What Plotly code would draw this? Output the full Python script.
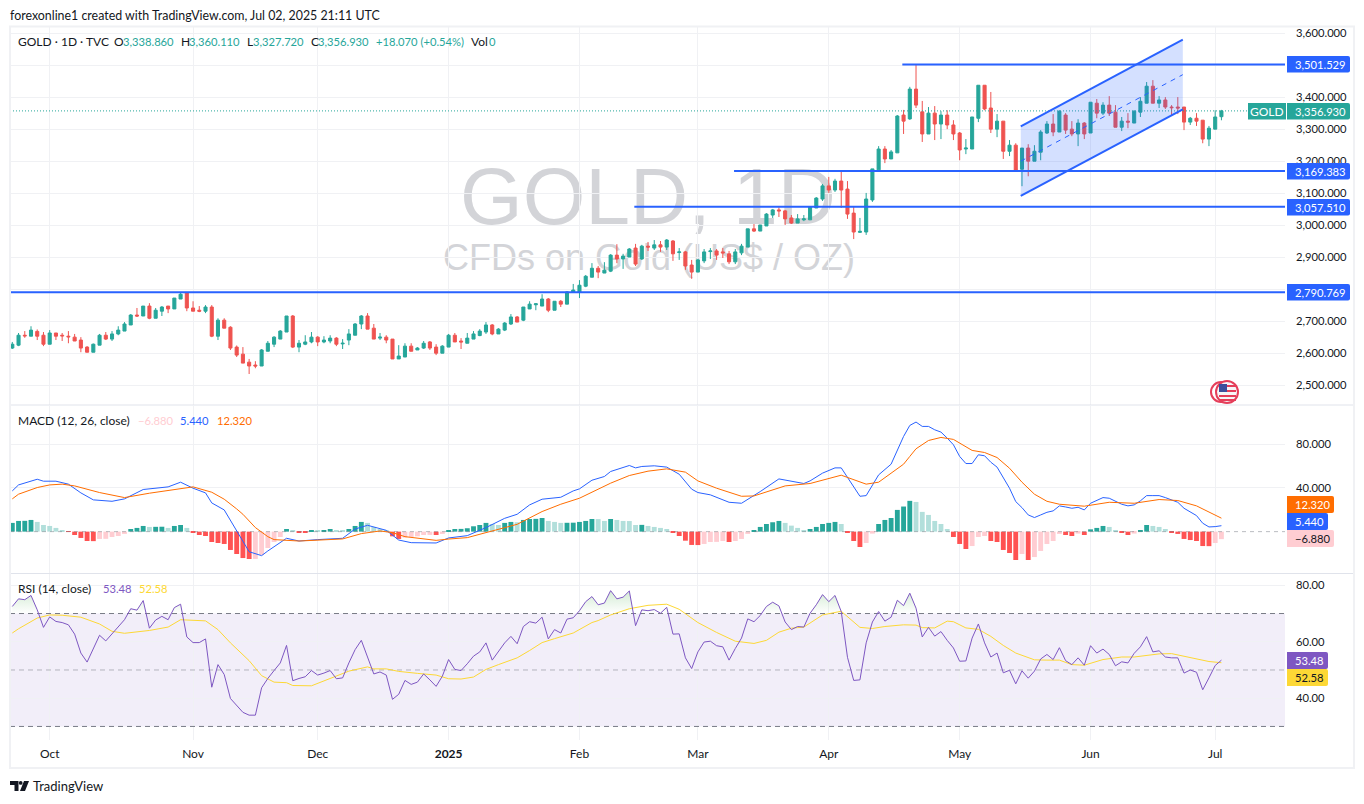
import plotly.graph_objects as go

W, H = 1364, 804
FONT = "Lato"
TEXT = "#131722"
GRID = "#f0f1f4"
UP = "#26a69a"
DOWN = "#ef5350"
BLUE = "#2962ff"
NUM = 11.2

opens = [2617,2626,2657,2654,2669,2657,2629,2664,2657,2654,
         2651,2642,2620,2604,2626,2657,2645,2661,2670,2689,
         2720,2717,2748,2710,2732,2748,2739,2770,2790,2742,
         2735,2732,2745,2654,2704,2682,2620,2598,2573,2564,
         2561,2607,2629,2645,2667,2717,2620,2629,2636,2651,
         2636,2639,2648,2630,2642,2657,2692,2717,2679,2648,
         2651,2645,2583,2589,2623,2611,2617,2636,2620,2601,
         2620,2657,2639,2632,2645,2656,2667,2689,2661,2673,
         2692,2714,2704,2739,2752,2748,2770,2735,2763,2754,
         2792,2792,2810,2838,2866,2851,2857,2907,2895,2901,
         2929,2895,2935,2929,2939,2932,2951,2915,2917,2876,
         2854,2889,2918,2920,2917,2911,2886,2914,2932,2989,
         2982,2998,3032,3048,3045,3023,3007,3017,3017,3054,
         3082,3123,3110,3138,3113,3038,2978,2979,3079,3173,
         3238,3207,3226,3344,3332,3425,3354,3285,3350,3316,
         3344,3313,3288,3238,3238,3334,3437,3366,3300,3325,
         3231,3250,3175,3241,3200,3228,3288,3316,3291,3344,
         3300,3285,3319,3288,3381,3350,3375,3353,3306,3325,
         3319,3353,3381,3434,3381,3391,3369,3369,3369,3322,
         3334,3328,3269,3300,3338.86]
highs = [2636,2664,2670,2685,2675,2667,2673,2664,2664,2670,
         2661,2651,2623,2631,2661,2667,2670,2685,2698,2723,
         2742,2748,2757,2742,2748,2748,2773,2792,2792,2763,
         2748,2751,2751,2710,2710,2685,2625,2620,2583,2576,
         2614,2639,2654,2673,2717,2720,2642,2657,2667,2654,
         2654,2657,2651,2645,2676,2695,2720,2726,2692,2664,
         2657,2645,2626,2632,2632,2620,2639,2639,2629,2626,
         2661,2664,2648,2664,2670,2676,2698,2692,2679,2698,
         2723,2717,2745,2763,2757,2785,2773,2763,2767,2795,
         2817,2829,2845,2882,2873,2885,2910,2941,2911,2929,
         2942,2939,2948,2954,2951,2957,2954,2929,2920,2892,
         2895,2926,2929,2926,2929,2920,2926,2942,2989,3004,
         3001,3038,3051,3056,3048,3032,3035,3032,3060,3088,
         3129,3151,3145,3169,3138,3057,3023,3101,3176,3247,
         3247,3235,3344,3360,3432,3501,3388,3369,3372,3356,
         3359,3328,3291,3269,3338,3437,3437,3416,3347,3325,
         3266,3256,3241,3253,3250,3297,3325,3347,3359,3350,
         3325,3331,3322,3384,3394,3384,3403,3375,3338,3350,
         3359,3400,3447,3453,3403,3400,3375,3400,3369,3338,
         3350,3328,3310,3359,3360.11]
lows = [2614,2623,2649,2654,2642,2623,2629,2642,2639,2632,
        2639,2604,2604,2604,2626,2642,2639,2657,2670,2689,
        2714,2717,2707,2710,2717,2726,2739,2770,2732,2732,
        2729,2726,2651,2642,2679,2611,2589,2570,2536,2554,
        2561,2607,2620,2645,2667,2617,2604,2626,2632,2623,
        2632,2632,2623,2614,2626,2657,2676,2676,2645,2642,
        2632,2583,2583,2589,2607,2611,2614,2611,2595,2601,
        2620,2636,2614,2632,2645,2654,2661,2657,2661,2670,
        2689,2698,2701,2739,2735,2748,2729,2735,2745,2754,
        2792,2773,2807,2838,2835,2851,2854,2882,2864,2901,
        2873,2892,2920,2923,2917,2923,2889,2892,2861,2833,
        2854,2882,2895,2892,2898,2879,2879,2907,2932,2979,
        2982,2998,3023,3026,3001,3004,3007,3013,3017,3054,
        3076,3101,3104,3054,3020,2957,2976,2970,3073,3173,
        3194,3207,3226,3285,3329,3366,3260,3285,3266,3269,
        3300,3266,3203,3222,3238,3322,3359,3288,3275,3207,
        3216,3169,3122,3153,3200,3203,3285,3278,3291,3285,
        3278,3247,3269,3288,3334,3344,3341,3306,3294,3303,
        3319,3338,3381,3381,3366,3363,3341,3347,3297,3313,
        3310,3256,3247,3300,3327.72]
closes = [2629,2657,2655,2673,2654,2629,2664,2654,2655,2652,
          2639,2617,2604,2629,2657,2645,2661,2673,2692,2720,
          2717,2748,2710,2735,2745,2739,2773,2785,2742,2732,
          2732,2745,2654,2704,2679,2617,2595,2570,2561,2561,
          2611,2632,2651,2670,2717,2620,2632,2636,2651,2636,
          2642,2648,2629,2632,2661,2692,2717,2676,2645,2651,
          2642,2583,2592,2623,2607,2617,2632,2617,2601,2623,
          2657,2636,2636,2648,2661,2670,2689,2661,2676,2695,
          2714,2698,2745,2754,2755,2770,2735,2763,2754,2792,
          2798,2813,2841,2866,2854,2860,2907,2895,2904,2926,
          2879,2935,2932,2939,2932,2954,2911,2917,2873,2854,
          2892,2917,2920,2907,2914,2886,2917,2935,2989,2982,
          3001,3035,3048,3045,3020,3007,3020,3020,3057,3085,
          3123,3110,3138,3110,3035,2979,2981,3082,3176,3238,
          3207,3229,3341,3325,3425,3375,3285,3350,3316,3344,
          3313,3285,3235,3241,3338,3437,3363,3300,3325,3231,
          3250,3172,3241,3200,3231,3291,3316,3291,3356,3297,
          3285,3319,3285,3384,3350,3375,3350,3306,3325,3322,
          3356,3387,3434,3381,3391,3369,3367,3366,3322,3334,
          3325,3269,3303,3338,3356.93]

hist_values = [8.0,9.8,9.9,10.7,8.9,6.1,5.2,3.4,1.5,-0.3,
               -3.1,-5.8,-8.6,-8.7,-6.7,-6.6,-4.9,-4.0,-2.1,2.4,
               3.4,5.2,4.3,4.4,4.5,3.4,5.2,6.1,3.4,-0.6,
               -3.1,-4.0,-9.5,-10.4,-11.3,-16.8,-20.5,-24.2,-25.1,-25.0,
               -21.4,-15.0,-9.5,-4.9,2.4,0.6,-0.6,-0.7,1.5,1.2,
               1.5,2.4,1.2,0.6,2.4,5.2,8.9,8.0,4.3,2.4,
               0.9,-4.3,-6.7,-5.5,-4.9,-4.3,-3.1,-3.0,-3.1,-2.1,
               1.2,2.4,2.5,3.1,4.9,6.1,8.0,7.0,6.1,8.0,
               8.9,8.6,10.7,11.6,11.7,12.5,9.8,8.9,8.0,8.1,
               8.2,8.9,9.8,11.6,11.5,9.8,11.6,10.7,9.8,9.7,
               6.1,6.2,5.2,4.3,3.4,2.4,-1.2,-4.0,-8.3,-12.2,
               -12.3,-11.3,-9.5,-9.4,-8.6,-9.5,-8.6,-6.7,-2.1,1.5,
               4.3,7.0,8.6,9.8,8.0,5.5,3.4,1.5,2.4,4.3,
               7.0,8.0,8.9,7.0,-0.6,-8.6,-14.1,-10.4,-1.8,7.0,
               10.7,12.5,19.9,23.0,28.2,27.2,18.1,15.3,9.8,7.0,
               2.4,-4.9,-11.3,-15.9,-13.2,-4.9,-4.0,-8.6,-9.5,-16.8,
               -19.6,-26.0,-20.5,-26.0,-23.3,-17.7,-11.3,-8.6,-2.1,-3.1,
               -4.0,-1.8,-3.1,2.1,3.4,5.2,4.3,0.6,-1.2,-3.1,
               -1.8,1.5,6.1,5.2,4.3,2.4,-0.6,-2.1,-6.7,-7.7,
               -8.6,-13.2,-13.3,-10.4,-6.88]

macd_idx = [0,1,4,5,7,9,11,13,16,18,21,25,27,29,31,32,34,36,38,40,41,44,46,49,53,55,57,60,62,64,68,70,
            73,76,77,79,81,83,85,88,90,91,93,95,96,99,100,101,103,105,107,109,110,112,115,117,120,123,127,128,130,132,133,136,137,139,141,
            143,144,145,146,147,148,149,150,151,152,153,154,155,156,157,158,159,160,161,162,163,164,165,166,167,168,169,
            170,171,172,173,174,175,176,177,178,179,180,181,182,183,184,185,186,187,188,189,190,191,192,193,194]
macd_values = [37.3,42.8,48.0,46.2,46.2,43.5,35.5,29.1,27.8,30.0,38.6,41.0,45.3,39.8,35.5,26.3,19.9,0.6,-18.4,-22.0,-17.7,-6.1,-8.6,-7.3,-6.1,2.4,5.8,1.2,-7.7,-10.1,-10.4,-5.8,
               -3.7,3.7,6.7,12.2,15.9,24.5,29.7,31.5,37.3,39.2,47.1,50.5,55.1,60.6,58.4,59.7,60.3,59.1,52.6,38.9,35.8,33.7,26.9,26.0,36.7,48.3,44.1,46.5,53.6,58.4,58.4,32.4,33.0,52.0,61.8,
               87.2,97.3,100.4,96.4,96.4,93.3,91.2,85.7,79.6,68.9,62.4,62.4,70.4,69.5,63.6,59.1,49.9,39.8,27.5,22.0,15.3,12.9,15.3,17.7,19.0,23.6,22.6,
               21.4,22.3,19.9,26.0,28.8,31.2,30.6,27.5,25.1,23.6,24.5,28.2,33.0,33.0,33.0,31.2,29.1,26.9,21.4,17.7,14.7,7.7,4.3,4.6,5.44]
signal_idx = [0,1,4,6,8,10,14,18,22,27,29,32,34,36,37,39,41,42,46,53,56,59,61,63,68,70,
              73,76,81,85,88,91,96,99,102,105,108,110,113,117,119,124,128,133,137,139,
              143,144,145,147,149,151,154,156,158,160,162,164,166,168,172,176,180,184,187,190,193,194]
signal_values = [30.0,34.3,40.4,42.8,43.5,41.9,35.8,31.2,35.2,39.8,41.0,36.1,29.7,20.8,15.9,3.7,-4.6,-7.3,-8.6,-6.7,-1.8,0.6,-0.9,-4.6,-8.0,-6.8,
                 -5.5,-0.9,6.7,18.4,25.1,30.6,44.4,51.4,55.4,57.5,54.5,46.5,39.8,32.4,32.7,41.9,44.1,51.7,43.5,45.3,
                 61.8,68.9,75.9,83.5,86.3,84.5,74.4,72.5,67.9,58.1,45.3,34.3,27.8,25.1,23.3,26.9,26.0,29.4,28.5,23.6,15.0,12.32]

rsi_values = [72.5,75.2,74.9,76.4,71.3,65.1,68.8,67.2,66.8,66.0,
              62.7,56.0,52.8,57.6,62.3,60.3,62.7,65.1,67.8,71.7,
              71.2,74.6,64.8,67.7,69.0,67.8,72.1,73.3,61.7,59.7,
              59.7,61.0,43.9,51.9,48.4,39.9,37.6,35.0,34.0,34.0,
              43.7,47.0,49.8,52.5,58.7,46.2,47.0,47.6,49.8,48.2,
              48.9,49.8,46.9,47.2,52.5,57.2,60.5,54.3,48.6,49.3,
              48.2,39.6,41.4,46.3,44.9,45.7,48.6,46.5,44.2,47.8,
              53.7,50.2,49.8,52.2,54.9,56.4,59.6,53.5,56.6,59.6,
              61.9,59.3,65.4,67.1,66.6,68.7,61.0,64.3,63.1,68.0,
              68.5,71.0,74.2,76.0,73.1,73.7,78.1,75.2,75.8,78.0,
              65.7,71.3,71.0,71.4,70.1,72.2,62.7,62.8,54.3,50.5,
              56.4,59.9,60.2,58.6,58.2,53.5,57.6,61.3,68.1,67.1,
              69.3,72.5,74.0,72.7,67.0,64.3,65.4,65.2,70.1,73.1,
              76.7,74.2,76.4,70.7,54.5,46.3,46.5,59.6,67.0,70.7,
              67.3,68.7,74.7,72.8,77.2,71.9,61.7,65.1,62.0,63.6,
              60.5,57.8,53.1,53.2,61.3,66.3,59.6,54.6,56.0,49.0,
              49.9,45.1,49.7,47.1,49.6,53.9,55.5,53.7,57.9,53.3,
              51.9,54.3,51.7,58.6,56.0,57.4,55.5,51.5,52.9,52.5,
              55.9,58.2,61.8,56.4,56.8,54.6,54.3,54.3,48.9,50.0,
              49.2,43.0,47.2,51.6,53.48]
rsi_ma_idx = [0,1,4,6,8,11,14,16,18,20,22,25,27,31,33,35,38,40,42,44,45,48,51,54,57,58,60,62,65,68,70,
              72,74,76,78,81,83,85,87,90,93,94,96,99,102,105,107,110,113,116,119,121,123,125,127,130,133,134,136,138,140,143,
              145,146,148,150,151,153,155,157,159,161,164,166,168,170,172,175,178,180,184,186,188,192,194]
rsi_ma_values = [63.1,64.6,68.4,69.5,69.4,68.7,66.3,63.7,63.0,63.5,64.0,65.2,67.8,67.4,64.3,59.6,53.3,48.0,45.7,45.5,44.5,44.4,47.0,49.6,51.1,50.4,50.4,49.5,48.8,48.2,46.9,
                 46.8,47.5,50.2,51.9,54.3,56.9,59.7,61.1,63.1,66.8,67.5,69.5,71.7,72.9,73.3,71.5,66.8,63.3,60.2,59.4,60.5,63.4,64.8,65.2,69.5,70.8,68.9,65.1,64.7,65.4,66.0,
                 65.9,65.0,64.9,67.3,67.1,64.9,64.4,61.9,58.7,56.0,53.6,53.5,53.5,51.9,51.7,53.7,54.6,54.6,55.7,55.8,54.8,53.0,52.58]

# horizontal levels: price, first bar
level_prices = [3501.529, 3169.383, 3057.510, 2790.769]
level_starts = [142.8, 115.8, 99.8, -0.37]
level_labels = ["3,501.529", "3,169.383", "3,057.510", "2,790.769"]

# parallel channel corners
chan_x = [161.8, 187.8]
chan_upper = [3308.8, 3579.0]
chan_mid = [3200.0, 3470.0]
chan_lower = [3091.5, 3361.9]

price_ticks = [3600, 3500, 3400, 3300, 3200, 3100, 3000, 2900, 2800, 2700, 2600, 2500]
price_labels = ["3,600.000", "", "3,400.000", "3,300.000", "3,200.000", "3,100.000", "3,000.000",
                "2,900.000", "", "2,700.000", "2,600.000", "2,500.000"]
macd_ticks = [80, 40]
macd_labels = ["80.000", "40.000"]
rsi_ticks = [80, 60, 40]
rsi_labels = ["80.00", "60.00", "40.00"]
month_idx = [6, 29, 49, 70, 91, 110, 131, 152, 173, 193]
month_labels = ["Oct", "Nov", "Dec", "<b>2025</b>", "Feb", "Mar", "Apr", "May", "Jun", "Jul"]

X_LEFT, X_RIGHT = -0.37, 204.2
bars = list(range(len(closes)))


def px(x):
    return x / W


def py(y):
    return 1 - (y + 1) / H


def label(x, y, text, color=TEXT, size=12, anchor="left"):
    # annotations pad their box by about 2px on the left
    if anchor == "left":
        x -= 2
    return dict(xref="paper", yref="paper", x=px(x), y=py(y), text=text, showarrow=False, xanchor=anchor,
                yanchor="middle", font=dict(family=FONT, size=size, color=color))


def tag_path(x0, y0, x1, y1, r=2):
    # price tag, round on the right side only
    pts = "M{},{} L{},{} Q{},{} {},{} L{},{} Q{},{} {},{} L{},{} Z".format(
        px(x0), py(y0), px(x1 - r), py(y0), px(x1), py(y0), px(x1), py(y0 + r), px(x1), py(y1 - r),
        px(x1), py(y1), px(x1 - r), py(y1), px(x0), py(y1))
    return dict(type="path", xref="paper", yref="paper", path=pts, fillcolor=None, line_width=0, layer="above")


def hist_color(i):
    v, prev = hist_values[i], hist_values[i - 1] if i else hist_values[i]
    if v >= 0:
        return "#26a69a" if prev < v or i == 0 else "#b2dfdb"
    return "#ffcdd2" if prev < v else "#ff5252"


fig = go.Figure()

# watermark sits on the first subplot so the candles draw over it
fig.add_trace(go.Scatter(x=[648, 649], y=[204, 261], mode="text", text=["GOLD, 1D", "CFDs on Gold (US$ / OZ)"],
                         textposition="middle center", hoverinfo="skip",
                         textfont=dict(family="Liberation Sans", size=[80.5, 36], color="#d3d4d8"),
                         xaxis="x", yaxis="y"))

fig.add_trace(go.Candlestick(x=bars, open=opens, high=highs, low=lows, close=closes, xaxis="x2", yaxis="y2",
                             increasing=dict(line=dict(color=UP, width=1), fillcolor=UP),
                             decreasing=dict(line=dict(color=DOWN, width=1), fillcolor=DOWN)))

fig.add_trace(go.Scatter(x=[X_LEFT, X_RIGHT], y=[closes[-1], closes[-1]], mode="lines", xaxis="x2", yaxis="y2",
                         line=dict(color=UP, width=1, dash="1px,2px")))

for p, s in zip(level_prices, level_starts):
    fig.add_trace(go.Scatter(x=[s, X_RIGHT], y=[p, p], mode="lines", xaxis="x2", yaxis="y2",
                             line=dict(color=BLUE, width=2)))

fig.add_trace(go.Scatter(x=chan_x + chan_x[::-1], y=chan_upper + chan_lower[::-1], mode="lines", fill="toself",
                         fillcolor="rgba(41,98,255,0.2)", line=dict(width=0), xaxis="x2", yaxis="y2"))
for ys, w, d in [(chan_upper, 2, "solid"), (chan_lower, 2, "solid"), (chan_mid, 1, "5px,5px")]:
    fig.add_trace(go.Scatter(x=chan_x, y=ys, mode="lines", xaxis="x2", yaxis="y2", line=dict(color=BLUE, width=w, dash=d)))

# MACD pane
fig.add_trace(go.Scatter(x=[X_LEFT, X_RIGHT], y=[0, 0], mode="lines", xaxis="x3", yaxis="y3",
                         line=dict(color="rgba(120,123,134,0.5)", width=1, dash="4px,4px")))
fig.add_trace(go.Bar(x=bars, y=hist_values, marker=dict(color=[hist_color(i) for i in bars], line_width=0),
                     xaxis="x3", yaxis="y3"))
fig.add_trace(go.Scatter(x=macd_idx, y=macd_values, mode="lines", line=dict(color=BLUE, width=1), xaxis="x3", yaxis="y3"))
fig.add_trace(go.Scatter(x=signal_idx, y=signal_values, mode="lines", line=dict(color="#ff6d00", width=1), xaxis="x3", yaxis="y3"))

# RSI pane, green where it runs above 70
area_x, area_y = [], []
for i in bars:
    v = rsi_values[i]
    prev = rsi_values[i - 1] if i else 70
    if (v > 70) != (prev > 70) and i:
        t = (70 - prev) / (v - prev)
        area_x.append(i - 1 + t)
        area_y.append(70)
        if v <= 70:
            area_x.append(None)
            area_y.append(None)
    if v > 70:
        if not area_x or area_x[-1] is None:
            area_x.append(i)
            area_y.append(70)
        area_x.append(i)
        area_y.append(v)
fig.add_trace(go.Scatter(x=area_x, y=area_y, mode="none", fill="toself", xaxis="x4", yaxis="y4",
                         fillgradient=dict(type="vertical", start=80, stop=70,
                                           colorscale=[[0, "rgba(76,175,80,0.3)"], [1, "rgba(76,175,80,0)"]])))
for lvl, c in [(70, "#787b86"), (50, "rgba(120,123,134,0.5)"), (30, "#787b86")]:
    fig.add_trace(go.Scatter(x=[X_LEFT, X_RIGHT], y=[lvl, lvl], mode="lines", xaxis="x4", yaxis="y4",
                             line=dict(color=c, width=1, dash="5px,4px")))
fig.add_trace(go.Scatter(x=rsi_ma_idx, y=rsi_ma_values, mode="lines", line=dict(color="#fdd835", width=1), xaxis="x4", yaxis="y4"))
fig.add_trace(go.Scatter(x=bars, y=rsi_values, mode="lines", line=dict(color="#7e57c2", width=1), xaxis="x4", yaxis="y4"))

shapes = [
    dict(type="rect", xref="x4", yref="y4", x0=X_LEFT, x1=X_RIGHT, y0=30, y1=70, fillcolor="rgba(126,87,194,0.1)",
         line_width=0, layer="below"),
    dict(type="line", xref="paper", yref="paper", x0=px(10), x1=px(1354), y0=py(405), y1=py(405), line=dict(color="#e0e3eb", width=1)),
    dict(type="line", xref="paper", yref="paper", x0=px(10), x1=px(1354), y0=py(573.5), y1=py(573.5), line=dict(color="#e0e3eb", width=1)),
    dict(type="rect", xref="paper", yref="paper", x0=px(10), x1=px(1354), y0=py(26.5), y1=py(768), line=dict(color="#f0f1f4", width=2)),
]

annotations = [label(10, 15, "forexonline1 created with TradingView.com, Jul 02, 2025 21:11 UTC", size=12.4)]

for x, text, color, sz in [(18, "GOLD · 1D · TVC", TEXT, 12), (114, "O", TEXT, 12), (123, "3,338.860", UP, NUM), (181, "H", TEXT, 12),
                           (189, "3,360.110", UP, NUM), (247, "L", TEXT, 12), (253, "3,327.720", UP, NUM), (311, "C", TEXT, 12),
                           (318, "3,356.930", UP, NUM), (376, "+18.070 (+0.54%)", UP, NUM), (471, "Vol", TEXT, 12), (489, "0", UP, NUM)]:
    annotations.append(label(x, 41, text, color, sz))
for x, text, color, sz in [(18, "MACD (12, 26, close)", TEXT, 12), (138, "−6.880", "#ffcdd2", NUM), (180, "5.440", BLUE, NUM), (217, "12.320", "#ff6d00", NUM)]:
    annotations.append(label(x, 420, text, color, sz))
for x, text, color, sz in [(18, "RSI (14, close)", TEXT, 12), (103, "53.48", "#7e57c2", NUM), (139, "52.58", "#fdd835", NUM)]:
    annotations.append(label(x, 588, text, color, sz))

# axis tags
tags = [(1287, 1350, 56, 72.5, BLUE, level_labels[0], "white"),
        (1287, 1350, 163, 179.5, BLUE, level_labels[1], "white"),
        (1287, 1350, 199, 215.5, BLUE, level_labels[2], "white"),
        (1287, 1350, 284, 300.5, BLUE, level_labels[3], "white"),
        (1287, 1350, 103, 119.5, UP, "3,356.930", "white"),
        (1287, 1334, 496, 513, "#ff6d00", "12.320", "white"),
        (1287, 1328, 513, 530, BLUE, "5.440", "white"),
        (1287, 1334, 530, 547, "#ffcdd2", "−6.880", TEXT),
        (1287, 1328, 652, 669, "#7e57c2", "53.48", "white"),
        (1287, 1328, 669, 686, "#fdd835", "52.58", TEXT)]
for x0, x1, y0, y1, c, text, tc in tags:
    s = tag_path(x0, y0, x1, y1)
    s["fillcolor"] = c
    shapes.append(s)
    annotations.append(label(1295, (y0 + y1) / 2, text, tc, NUM))
shapes.append(dict(type="path", xref="paper", yref="paper", layer="above", line_width=0, fillcolor=UP,
                   path="M{},{} L{},{} L{},{} L{},{} Z".format(px(1248), py(103), px(1286), py(103), px(1286), py(119.5), px(1248), py(119.5))))
annotations.append(label(1267, 111, "GOLD", "white", anchor="center"))

# TradingView logo
annotations.append(label(33, 786, "TradingView", TEXT, size=13))
for pts in ["M10,781 L18.5,781 L18.5,791 L14.5,791 L14.5,785 L10,785 Z", "M24,781 L29,781 L25,791 L20,791 Z"]:
    path = ""
    for tok in pts.split():
        if tok == "Z":
            path += "Z"
        else:
            a, b = tok[1:].split(",")
            path += "{}{},{} ".format(tok[0], px(float(a)), py(float(b)))
    shapes.append(dict(type="path", xref="paper", yref="paper", path=path, fillcolor=TEXT, line_width=0))
shapes.append(dict(type="circle", xref="paper", yref="paper", x0=px(18.8), x1=px(22.6), y0=py(781), y1=py(784.8), fillcolor=TEXT, line_width=0))

# earnings style flag icon
shapes.append(dict(type="circle", xref="paper", yref="paper", x0=px(1211), x1=px(1231), y0=py(382), y1=py(402),
                   fillcolor="white", line=dict(color="#e53e5a", width=2)))
shapes.append(dict(type="circle", xref="paper", yref="paper", x0=px(1216), x1=px(1238), y0=py(381), y1=py(403),
                   fillcolor="#f6f6f8", line=dict(color="#e53e5a", width=2)))
for y in [386, 391, 396, 400]:
    shapes.append(dict(type="line", xref="paper", yref="paper", x0=px(1219), x1=px(1236), y0=py(y), y1=py(y), line=dict(color="#e53e5a", width=2)))
shapes.append(dict(type="rect", xref="paper", yref="paper", x0=px(1219), x1=px(1227), y0=py(384), y1=py(392), fillcolor="#3c4f9c", line_width=0))

dom_x = [px(10), px(1285)]
common_x = dict(range=[X_LEFT, X_RIGHT], domain=dom_x, tickvals=month_idx, showgrid=True, gridcolor=GRID, gridwidth=1,
                zeroline=False, showline=False, ticks="", fixedrange=True)
common_y = dict(side="right", showgrid=True, gridcolor=GRID, gridwidth=1, zeroline=False, showline=False, ticks="",
                ticklabelstandoff=10, tickfont=dict(family=FONT, size=NUM, color=TEXT), fixedrange=True)

fig.update_layout(
    width=W, height=H, margin=dict(l=0, r=0, t=0, b=0, pad=0), paper_bgcolor="white", plot_bgcolor="rgba(0,0,0,0)",
    showlegend=False, hovermode=False, bargap=0.22, boxgap=0.3,
    shapes=shapes, annotations=annotations,
    xaxis=dict(domain=dom_x, range=[10, 1285], visible=False, fixedrange=True),
    yaxis=dict(domain=[py(405), py(27)], range=[405, 27], visible=False, fixedrange=True),
    xaxis2=dict(common_x, anchor="y2", showticklabels=False, rangeslider=dict(visible=False)),
    yaxis2=dict(common_y, anchor="x2", domain=[py(405), py(27)], range=[3600 - 372 / 0.3205, 3600 + 6 / 0.3205],
                tickvals=price_ticks, ticktext=price_labels),
    xaxis3=dict(common_x, anchor="y3", showticklabels=False),
    yaxis3=dict(common_y, anchor="x3", domain=[py(573), py(406)], range=[-37.9, 115.1],
                tickvals=macd_ticks, ticktext=macd_labels),
    xaxis4=dict(common_x, anchor="y4", ticktext=month_labels, ticklabelstandoff=5,
                tickfont=dict(family=FONT, size=12, color=TEXT)),
    yaxis4=dict(common_y, anchor="x4", domain=[py(740), py(574)], range=[25.2, 84],
                tickvals=rsi_ticks, ticktext=rsi_labels),
)

fig.write_html("out.html", config={"displayModeBar": False},
               post_script="document.body.style.margin='-1px 0 0 0';document.body.style.overflow='hidden';")
